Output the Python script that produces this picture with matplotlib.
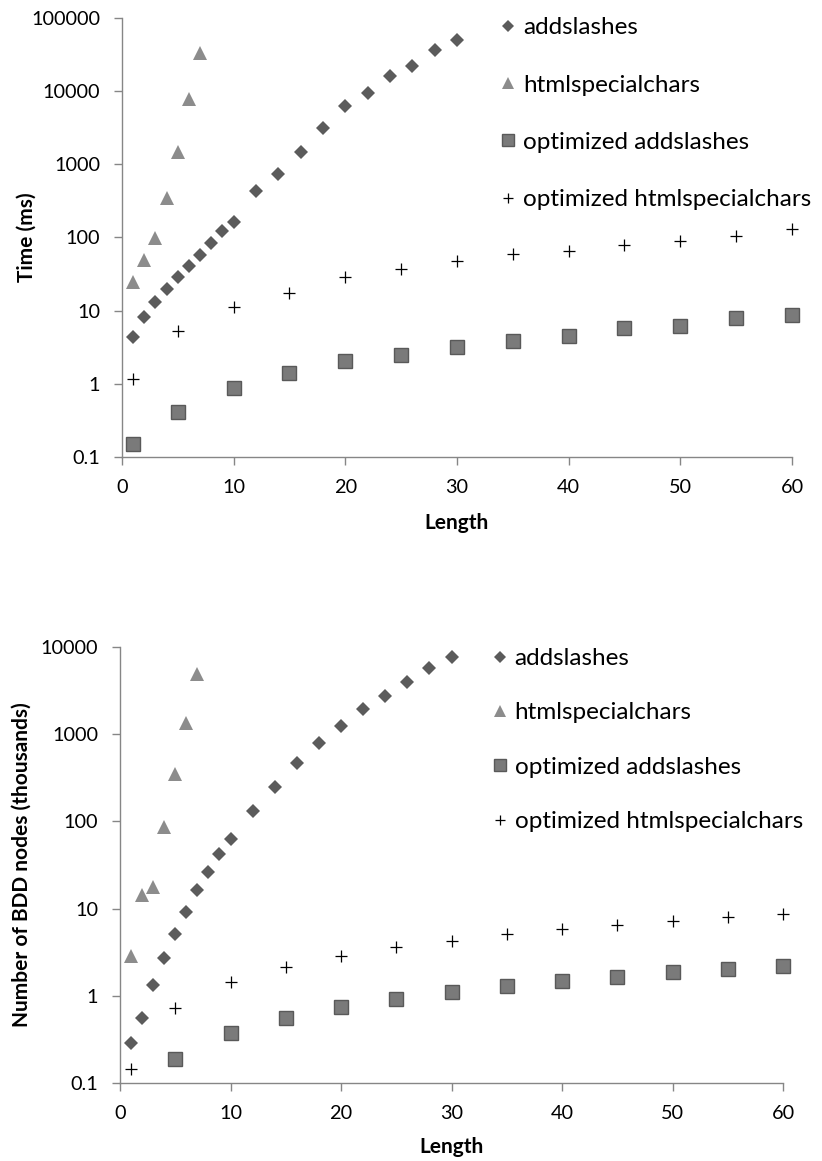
import numpy as np
import matplotlib.pyplot as plt

plt.rcParams['font.family'] = ['Lato', 'DejaVu Sans']

# ---- top chart: time (ms) ----
x_add = [1, 2, 3, 4, 5, 6, 7, 8, 9, 10, 12, 14, 16, 18, 20, 22, 24, 26, 28, 30]
t_add = [4.3, 8.3, 13.2, 20, 29, 41, 57.5, 85, 121, 161,
         434, 730, 1480, 3100, 6250, 9300, 16000, 22200, 36300, 49700]

x_html = [1, 2, 3, 4, 5, 6, 7]
t_html = [24.8, 49, 97, 342, 1480, 7780, 33400]

x_opt = [1, 5, 10, 15, 20, 25, 30, 35, 40, 45, 50, 55, 60]
t_opt_add = [0.149, 0.416, 0.87, 1.42, 2.07, 2.45, 3.15, 3.88, 4.5, 5.73, 6.22, 8.0, 8.63]
t_opt_html = [1.15, 5.27, 11.1, 17.6, 28.5, 36.6, 48, 58.8, 65.8, 78.7, 90, 105, 129]

# ---- bottom chart: BDD nodes (thousands) ----
n_add = [0.285, 0.552, 1.33, 2.69, 5.07, 9.06, 16.3, 26.5, 41.9, 62.8,
         133, 250, 471, 787, 1253, 1930, 2770, 4000, 5700, 7620]
n_html = [2.86, 14.3, 17.5, 87, 350, 1355, 4860]

x_opt_add_n = [5, 10, 15, 20, 25, 30, 35, 40, 45, 50, 55, 60]
n_opt_add = [0.187, 0.371, 0.552, 0.738, 0.92, 1.11, 1.29, 1.48, 1.66, 1.86, 2.03, 2.22]
n_opt_html = [0.145, 0.718, 1.43, 2.16, 2.86, 3.6, 4.29, 5.07, 5.79, 6.48, 7.2, 8.07, 8.6]

labels = ['addslashes', 'htmlspecialchars', 'optimized addslashes', 'optimized htmlspecialchars']

axis_grey = '#868686'
fs_tick = 14.3
fs_label = 15
fs_leg = 17.5


def draw_panel(ax, series, ylim, yticks, ylabel):
    styles = [
        dict(marker='D', markersize=7.6, color='#5b5b5b', markeredgewidth=0),
        dict(marker='^', markersize=10, color='#8c8c8c', markeredgewidth=0),
        dict(marker='s', markersize=10.5, markerfacecolor='#7a7a7a',
             markeredgecolor='#595959', markeredgewidth=1.0, color='#7a7a7a'),
        dict(marker='+', markersize=8, color='black', markeredgewidth=0.9),
    ]
    for (xs, ys), st, lab in zip(series, styles, labels):
        ax.plot(xs, ys, linestyle='none', label=lab, clip_on=False, **st)

    ax.set_yscale('log')
    ax.set_xlim(0, 60)
    ax.set_ylim(*ylim)
    ax.set_xticks(range(0, 61, 10))
    ax.set_yticks(yticks)
    ax.set_yticklabels([f'{v:g}' for v in yticks])
    ax.minorticks_off()

    for side in ['top', 'right']:
        ax.spines[side].set_visible(False)
    for side in ['left', 'bottom']:
        ax.spines[side].set_color(axis_grey)
        ax.spines[side].set_linewidth(1.0)
    ax.tick_params(axis='both', which='major', direction='out', length=5.8,
                   width=1.0, color=axis_grey, labelsize=fs_tick, pad=10)

    ax.set_xlabel('Length', fontsize=fs_label, fontweight='bold')
    ax.set_ylabel(ylabel, fontsize=fs_label, fontweight='bold')


fig = plt.figure(figsize=(8.22, 11.61), dpi=100)

ax1 = fig.add_axes([0.1484, 0.6064, 0.8151, 0.3781])
draw_panel(ax1,
           [(x_add, t_add), (x_html, t_html), (x_opt, t_opt_add), (x_opt, t_opt_html)],
           (0.1, 100000), [0.1, 1, 10, 100, 1000, 10000, 100000], 'Time (ms)')
ax1.xaxis.set_label_coords(0.5, -0.128)
ax1.yaxis.set_label_coords(-0.128, 0.5)
ax1.legend(loc='upper left', bbox_to_anchor=(0.6062, 0.985), bbox_transform=fig.transFigure,
           frameon=False, fontsize=fs_leg, handlelength=0.8, handletextpad=0.22,
           labelspacing=1.49, borderpad=0, borderaxespad=0, markerscale=0.85)

ax2 = fig.add_axes([0.146, 0.0672, 0.8066, 0.3755])
draw_panel(ax2,
           [(x_add, n_add), (x_html, n_html), (x_opt_add_n, n_opt_add), (x_opt, n_opt_html)],
           (0.1, 10000), [0.1, 1, 10, 100, 1000, 10000], 'Number of BDD nodes (thousands)')
ax2.xaxis.set_label_coords(0.5, -0.125)
ax2.yaxis.set_label_coords(-0.133, 0.5)
ax2.legend(loc='upper left', bbox_to_anchor=(0.596, 0.4418), bbox_transform=fig.transFigure,
           frameon=False, fontsize=fs_leg, handlelength=0.8, handletextpad=0.22,
           labelspacing=1.37, borderpad=0, borderaxespad=0, markerscale=0.85)

plt.savefig('out.png', dpi=100)
